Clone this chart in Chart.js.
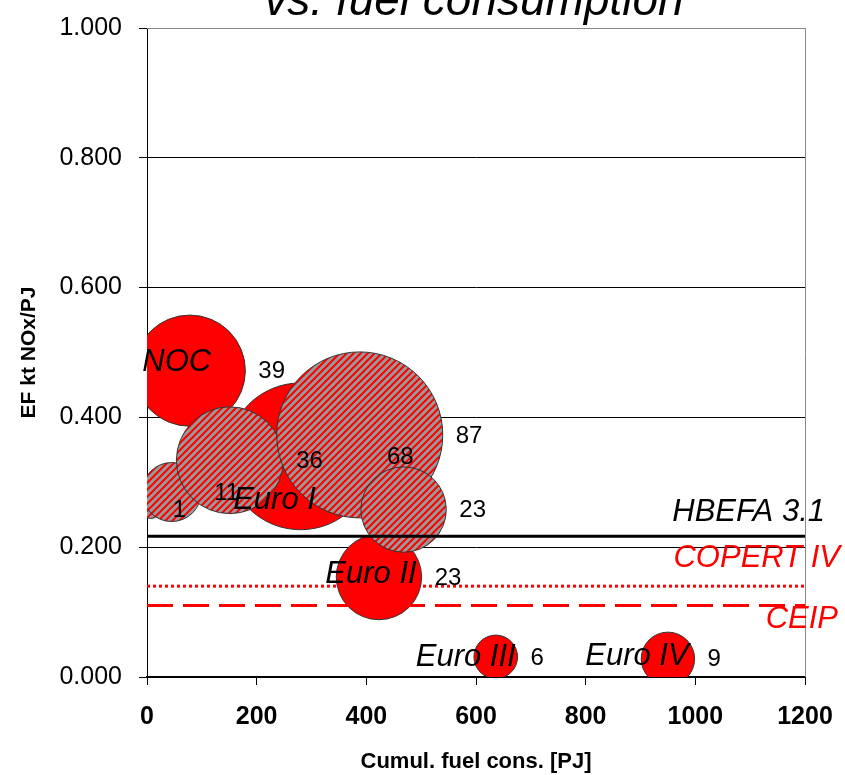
<!DOCTYPE html>
<html>
<head>
<meta charset="utf-8">
<script src="https://cdn.jsdelivr.net/npm/chart.js@4.4.1/dist/chart.umd.min.js"></script>
<style>
  html, body { margin: 0; padding: 0; background: #fff; }
  #wrap { width: 845px; height: 775px; position: relative; }
</style>
</head>
<body>
<div id="wrap"><canvas id="chart"></canvas></div>
<script>
// measured groups (solid red)
const categories = ["NOC", "Euro I", "Euro II", "Euro III", "Euro IV"];
const measFuel = [78, 280, 423, 636, 950];
const measEF = [0.472, 0.340, 0.154, 0.031, 0.028];
const measCount = [39, 68, 23, 6, 9];

// second group (hatched)
const otherFuel = [7, 45, 151, 388, 468];
const otherEF = [0.258, 0.285, 0.334, 0.373, 0.258];
const otherCount = [1, 11, 36, 87, 23];

// reference emission factors
const refNames = ["HBEFA 3.1", "COPERT IV", "CEIP"];
const refEF = [0.217, 0.140, 0.110];

const xTicks = [0, 200, 400, 600, 800, 1000, 1200];
const yTicks = [0, 0.2, 0.4, 0.6, 0.8, 1.0];

/* ---------- styles ---------- */
const FONT = "'Liberation Sans', Arial, sans-serif";
const bubbleScale = 8.9;
const refColors = ["#000000", "#ff0000", "#ff0000"];
const refDash = [[], [3, 3], [26, 10]];
const refLabelRight = [20, 35, 33];
const refLabelDy = [-24, -28, 14];
const nameOffsets = [[-13, -8], [-26, 44], [-8, -3], [-30, 0], [-31, -2]];

function hatch() {
  const s = 7;
  const c = document.createElement("canvas");
  c.width = s; c.height = s;
  const g = c.getContext("2d");
  g.fillStyle = "#999999";
  g.fillRect(0, 0, s, s);
  g.strokeStyle = "#ff0000";
  g.lineWidth = 2;
  g.beginPath();
  g.moveTo(-s, s); g.lineTo(s, -s);
  g.moveTo(0, 2 * s); g.lineTo(2 * s, 0);
  g.moveTo(-1, s + 1); g.lineTo(s + 1, -1);
  g.stroke();
  return g.createPattern(c, "repeat");
}

const bubbleData = (xs, ys, ns) =>
  xs.map((x, i) => ({ x: x, y: ys[i], r: Math.sqrt(ns[i]) * bubbleScale, n: ns[i] }));

const refSets = refNames.map((name, i) => ({
  type: "line",
  label: name,
  data: [{ x: xTicks[0], y: refEF[i] }, { x: xTicks[xTicks.length - 1], y: refEF[i] }],
  borderColor: refColors[i],
  borderWidth: 3,
  borderDash: refDash[i],
  pointRadius: 0,
  fill: false,
  order: 0
}));

/* ---------- plugins ---------- */
const titlePlugin = {
  id: "topTitle",
  afterDraw(chart) {
    const { ctx, chartArea } = chart;
    ctx.save();
    ctx.font = "italic 46px " + FONT;
    ctx.fillStyle = "#000";
    ctx.textAlign = "center";
    ctx.textBaseline = "alphabetic";
    ctx.fillText("vs. fuel consumption", (chartArea.left + chartArea.right) / 2 - 2, 15);
    ctx.restore();
  }
};

const framePlugin = {
  id: "frame",
  beforeDatasetsDraw(chart) {
    const { ctx, chartArea: a } = chart;
    ctx.save();
    ctx.strokeStyle = "#888";
    ctx.lineWidth = 1;
    ctx.beginPath();
    ctx.moveTo(a.left, a.top + 0.5);
    ctx.lineTo(a.right + 0.5, a.top + 0.5);
    ctx.lineTo(a.right + 0.5, a.bottom);
    ctx.stroke();
    ctx.restore();
  }
};

const labelPlugin = {
  id: "bubbleLabels",
  afterDraw(chart) {
    const { ctx, chartArea } = chart;
    ctx.save();
    // counts right of every bubble
    ctx.font = "24px " + FONT;
    ctx.fillStyle = "#000";
    ctx.textAlign = "left";
    ctx.textBaseline = "middle";
    [1, 0].forEach(di => {
      const ds = chart.data.datasets[di + refSets.length];
      chart.getDatasetMeta(di + refSets.length).data.forEach((el, j) => {
        ctx.fillText(String(ds.data[j].n), el.x + el.options.radius + 13, el.y + 1);
      });
    });
    // category names
    ctx.font = "italic 31px " + FONT;
    ctx.textAlign = "center";
    chart.getDatasetMeta(refSets.length).data.forEach((el, j) => {
      ctx.fillText(categories[j], el.x + nameOffsets[j][0], el.y + nameOffsets[j][1]);
    });
    // reference line names
    const ys = chart.scales.y;
    ctx.textAlign = "right";
    refNames.forEach((name, i) => {
      ctx.fillStyle = refColors[i];
      ctx.fillText(name, chartArea.right + refLabelRight[i], ys.getPixelForValue(refEF[i]) + refLabelDy[i]);
    });
    ctx.restore();
  }
};

new Chart(document.getElementById("chart"), {
  type: "bubble",
  data: {
    datasets: [
      ...refSets,
      {
        label: "measured",
        data: bubbleData(measFuel, measEF, measCount),
        backgroundColor: "#ff0000",
        borderColor: "#333",
        borderWidth: 1,
        order: 2
      },
      {
        label: "other",
        data: bubbleData(otherFuel, otherEF, otherCount),
        backgroundColor: hatch(),
        borderColor: "#333",
        borderWidth: 1,
        order: 1
      }
    ]
  },
  options: {
    responsive: true,
    maintainAspectRatio: false,
    animation: false,
    layout: { autoPadding: false, padding: { top: 28, right: 40, left: 0, bottom: 0 } },
    plugins: {
      legend: { display: false },
      tooltip: { enabled: false }
    },
    scales: {
      x: {
        type: "linear",
        min: xTicks[0],
        max: xTicks[xTicks.length - 1],
        afterBuildTicks: s => { s.ticks = xTicks.map(v => ({ value: v })); },
        afterFit: s => { s.height = 98; s.paddingLeft = 0; s.paddingRight = 0; },
        ticks: {
          color: "#000",
          font: { family: FONT, size: 25, weight: "bold" },
          padding: 17,
          maxRotation: 0,
          callback: v => String(v)
        },
        grid: { drawOnChartArea: false, drawTicks: true, tickLength: 8, color: "#000" },
        border: { color: "#000", width: 2 },
        title: {
          display: true,
          text: "Cumul. fuel cons. [PJ]",
          color: "#000",
          font: { family: FONT, size: 22, weight: "bold" },
          padding: { top: 0, bottom: 0 }
        }
      },
      y: {
        type: "linear",
        min: yTicks[0],
        max: yTicks[yTicks.length - 1],
        afterBuildTicks: s => { s.ticks = yTicks.map(v => ({ value: v })); },
        afterFit: s => { s.width = 147; s.paddingTop = 0; s.paddingBottom = 0; },
        ticks: {
          color: "#000",
          font: { family: FONT, size: 25 },
          padding: 17,
          callback: v => v.toFixed(3)
        },
        grid: {
          color: c => (c.tick && c.tick.value === 1 ? "#888" : "#000"),
          lineWidth: 1,
          tickLength: 8,
          tickColor: "#000"
        },
        border: { color: "#000", width: 1 },
        title: {
          display: true,
          text: "EF kt NOx/PJ",
          color: "#000",
          font: { family: FONT, size: 21, weight: "bold" },
          padding: { top: 17, bottom: 0 }
        }
      }
    }
  },
  plugins: [framePlugin, labelPlugin, titlePlugin]
});
</script>
</body>
</html>
